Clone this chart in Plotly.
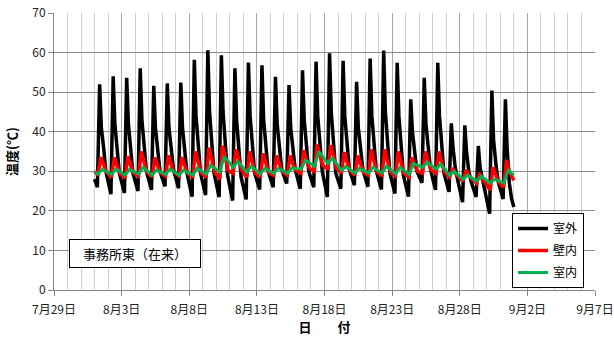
import datetime as dt
import plotly.graph_objects as go

YEAR = 2012
DAYS = list(range(1, 32))  # 8月1日 .. 8月31日

# 室外 (outdoor surface) - values read per day at fixed hours
OUT_HOURS = [5, 9, 12, 16, 20]
out_min = [26.0, 24.2, 24.5, 25.0, 25.3, 26.2, 25.7, 23.6, 24.0, 23.5, 22.6, 22.9, 25.4, 26.0, 26.9, 25.6,
           26.0, 23.5, 25.6, 26.5, 26.1, 25.4, 24.4, 23.6, 27.1, 25.3, 24.8, 22.2, 23.5, 19.3, 23.0]
out_peak = [52.0, 54.0, 53.6, 56.0, 51.6, 52.2, 52.4, 58.2, 60.6, 59.3, 56.0, 57.5, 56.8, 53.9, 51.8, 55.5,
            57.7, 59.8, 57.9, 52.6, 58.5, 60.5, 57.4, 48.2, 53.6, 57.4, 42.1, 41.6, 36.4, 50.4, 48.2]
out_noon = [41, 42, 42, 43, 41, 41, 41, 44, 45, 45, 43, 44, 43, 42, 41, 43,
            44, 45, 44, 41, 44, 45, 44, 40, 42, 44, 36, 35, 31, 38, 36]
out_aft = [36, 36, 36, 37, 35, 36, 36, 37, 38, 37, 36, 37, 37, 36, 35, 37,
           38, 38, 37, 35, 37, 38, 37, 34, 36, 37, 31, 30, 28, 32, 27]
out_eve = [30.0, 29.5, 29.5, 30.0, 30.0, 30.5, 29.5, 29.5, 29.5, 29.0, 28.5, 29.5, 30.0, 30.5, 30.5, 30.0,
           30.0, 29.5, 30.5, 30.5, 30.0, 29.5, 29.0, 30.0, 30.5, 29.5, 28.0, 27.5, 25.5, 27.5, 23.0]
out_start, out_end = 28.0, 21.0

# 壁内 (inside wall)
RED_HOURS = [6, 11, 16, 21]
red_min = [29.0, 28.5, 28.3, 28.8, 28.6, 28.8, 28.8, 28.4, 28.5, 28.0, 29.5, 28.5, 28.5, 29.0, 29.0, 29.5,
           30.0, 30.5, 29.5, 29.0, 29.0, 29.0, 28.8, 28.5, 29.5, 29.5, 28.5, 27.5, 27.0, 25.2, 26.0]
red_peak = [33.6, 33.5, 33.8, 35.0, 33.5, 34.0, 33.6, 35.0, 36.0, 36.5, 35.5, 35.0, 34.5, 34.0, 34.0, 35.3,
            36.8, 36.6, 34.8, 34.0, 35.5, 35.5, 35.0, 33.5, 35.0, 35.0, 30.8, 30.3, 29.5, 31.0, 32.8]
red_aft = [31.5, 31.3, 31.5, 32.3, 31.3, 31.6, 31.4, 32.3, 33.0, 33.5, 33.0, 32.3, 32.0, 31.8, 31.8, 32.8,
           34.0, 34.0, 32.3, 31.8, 32.5, 32.5, 32.2, 31.5, 32.5, 32.3, 29.5, 29.0, 28.0, 28.8, 30.0]
red_night = [29.8, 29.4, 29.6, 29.8, 29.6, 29.8, 29.5, 29.6, 29.8, 30.2, 30.3, 29.6, 29.7, 30.0, 30.2, 30.8,
             31.5, 30.8, 30.2, 29.8, 29.8, 29.7, 29.5, 30.0, 30.3, 29.8, 28.8, 28.2, 27.2, 27.2, 28.5]
red_start, red_end = 30.0, 27.7

# 室内 (room)
GRN_HOURS = [6, 14]
grn_low = [29.3, 29.2, 29.0, 29.3, 29.0, 29.2, 29.0, 29.0, 29.3, 29.8, 31.0, 29.8, 29.3, 29.5, 29.5, 30.5,
           31.3, 32.0, 30.2, 29.5, 29.5, 29.5, 29.3, 29.2, 31.0, 30.5, 29.0, 28.0, 27.5, 27.0, 27.0]
grn_high = [30.5, 30.6, 30.5, 31.0, 30.3, 30.6, 30.3, 30.8, 31.5, 33.7, 32.5, 31.3, 30.8, 30.8, 30.8, 32.8,
            35.0, 33.3, 31.2, 30.8, 31.0, 31.3, 31.0, 32.0, 32.3, 31.8, 30.0, 29.0, 28.8, 28.0, 30.3]
grn_start, grn_end = 29.8, 29.0

# axis
TICK_DATES = [(7, 29), (8, 3), (8, 8), (8, 13), (8, 18), (8, 23), (8, 28), (9, 2), (9, 7)]
TICK_TEXT = ["7月29日", "8月3日", "8月8日", "8月13日", "8月18日", "8月23日", "8月28日", "9月2日", "9月7日"]
Y_TICKS = [0, 10, 20, 30, 40, 50, 60, 70]


def build(hours, columns, start, end):
    xs = [dt.datetime(YEAR, 8, 1, 0)]
    ys = [start]
    for i, d in enumerate(DAYS):
        for h, col in zip(hours, columns):
            xs.append(dt.datetime(YEAR, 8, d, h))
            ys.append(col[i])
    xs.append(dt.datetime(YEAR, 9, 1, 0))
    ys.append(end)
    return xs, ys


ox, oy = build(OUT_HOURS, [out_min, out_peak, out_noon, out_aft, out_eve], out_start, out_end)
rx, ry = build(RED_HOURS, [red_min, red_peak, red_aft, red_night], red_start, red_end)
gx, gy = build(GRN_HOURS, [grn_low, grn_high], grn_start, grn_end)

FONT = "Noto Sans CJK JP, Noto Sans, sans-serif"

fig = go.Figure()
fig.add_trace(go.Scatter(x=ox, y=oy, mode="lines", name="室外", legendgroup="a",
                         line=dict(color="#000000", width=3.5)))
fig.add_trace(go.Scatter(x=rx, y=ry, mode="lines", name="壁内", legendgroup="b",
                         line=dict(color="#ff0000", width=3.5)))
fig.add_trace(go.Scatter(x=gx, y=gy, mode="lines", name="室内", legendgroup="c",
                         line=dict(color="#00b050", width=3)))

tickvals = [dt.datetime(YEAR, m, d) for m, d in TICK_DATES]

fig.update_layout(
    width=614, height=340,
    margin=dict(l=54, r=19, t=13, b=50, autoexpand=False),
    paper_bgcolor="white", plot_bgcolor="white",
    font=dict(family=FONT, size=12, color="#222222"),
    showlegend=True,
    legend=dict(x=(512 - 54) / 541, y=(290 - 213) / 277, xanchor="left", yanchor="top",
                bgcolor="white", bordercolor="#000000", borderwidth=1,
                font=dict(size=12, color="#000000"), traceorder="grouped",
                tracegroupgap=3, itemwidth=30),
    xaxis=dict(
        range=[dt.datetime(YEAR, 7, 29), dt.datetime(YEAR, 9, 7)],
        tickvals=tickvals, ticktext=TICK_TEXT,
        ticks="outside", ticklen=5, tickcolor="#868686",
        showgrid=True, gridcolor="#a8a8a8", gridwidth=1,
        minor=dict(dtick=86400000, showgrid=True, gridcolor="#d0d0d0", ticks=""),
        showline=True, linecolor="#868686", linewidth=1,
        zeroline=False, ticklabelstandoff=4,
        title=dict(text="<b>日　　付</b>", font=dict(size=13, color="#000000"), standoff=5),
    ),
    yaxis=dict(
        range=[0, 70], tickvals=Y_TICKS,
        ticks="outside", ticklen=5, tickcolor="#868686",
        showgrid=True, gridcolor="#8c8c8c", gridwidth=1,
        showline=True, linecolor="#868686", linewidth=1,
        zeroline=False,
        title=dict(text="<b>温度(℃)</b>", font=dict(size=13, color="#000000"), standoff=11),
    ),
    annotations=[dict(
        text="事務所東（在来）", xref="paper", yref="paper",
        x=(135 - 54) / 541, y=(290 - 253.5) / 277, xanchor="center", yanchor="middle",
        showarrow=False, font=dict(size=13, color="#000000"),
        bgcolor="white", bordercolor="#000000", borderwidth=1,
        width=128, height=25, align="center",
    )],
)

# remove the browser's default 8px page margin so the figure sits at the window origin
fig.write_html("out.html", config={"displayModeBar": False},
               post_script="document.body.style.margin='0px';")
